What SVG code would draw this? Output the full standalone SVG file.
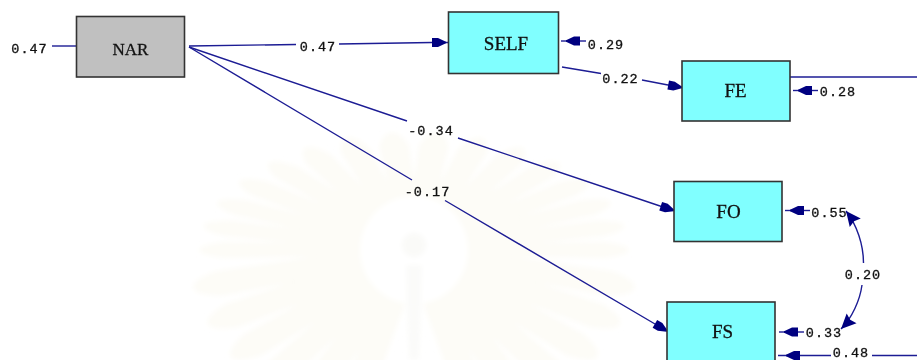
<svg xmlns="http://www.w3.org/2000/svg" width="917" height="360" viewBox="0 0 917 360">
<style>
.n{stroke:#333;stroke-width:1.6}
.c{fill:#80ffff}
.g{fill:#c0c0c0}
.t{fill:#111;text-anchor:middle;stroke:#111;stroke-width:.3}
.nt{font-family:"Liberation Serif",serif;font-size:19px}
.l{font-family:"Liberation Mono",monospace;font-size:13.500px;letter-spacing:1px}
.e{fill:none;stroke:#1c1c94;stroke-width:1.4}
.h{marker-end:url(#a)}
.m{marker-mid:url(#a)}
.r{fill:#fdfcf7}
</style>
<defs>
<marker id="a" markerUnits="userSpaceOnUse" markerWidth="20" markerHeight="14" viewBox="-16 -7 20 14" refX="0" refY="0" orient="auto" overflow="visible">
<path d="M-14,-4.500 L-8,-4.500 L0,-0.800 L0,0.800 L-8,4.500 L-14,4.500Z" fill="#000080"/>
</marker>
<marker id="b" markerUnits="userSpaceOnUse" markerWidth="20" markerHeight="14" viewBox="-16 -7 20 14" refX="0" refY="0" orient="auto" overflow="visible">
<path d="M-15,-7 L0,0 L-15,7 L-13,0Z" fill="#000080"/>
</marker>
<path id="ray" d="M50,-11 L190,-15 Q215,-9 215,0 Q215,9 190,15 L50,11Z"/>
<filter id="s" x="-10%" y="-10%" width="120%" height="120%"><feGaussianBlur stdDeviation="2.500"/></filter>
</defs>
<rect width="917" height="360" fill="#fff"/>
<g id="watermark" filter="url(#s)">
<g class="r" transform="translate(414,250) scale(1,.55)">
<use href="#ray" transform="rotate(180)"/><use href="#ray" transform="rotate(192)"/><use href="#ray" transform="rotate(204)"/><use href="#ray" transform="rotate(216)"/><use href="#ray" transform="rotate(228)"/><use href="#ray" transform="rotate(240)"/><use href="#ray" transform="rotate(252)"/><use href="#ray" transform="rotate(264)"/><use href="#ray" transform="rotate(276)"/><use href="#ray" transform="rotate(288)"/><use href="#ray" transform="rotate(300)"/><use href="#ray" transform="rotate(312)"/><use href="#ray" transform="rotate(324)"/><use href="#ray" transform="rotate(336)"/><use href="#ray" transform="rotate(348)"/><use href="#ray" transform="rotate(0)"/>
</g>
<g class="r" transform="translate(414,250) scale(1.05,.85)">
<use href="#ray" transform="rotate(12)"/><use href="#ray" transform="rotate(24)"/><use href="#ray" transform="rotate(36)"/><use href="#ray" transform="rotate(48)"/><use href="#ray" transform="rotate(60)"/><use href="#ray" transform="rotate(72)"/><use href="#ray" transform="rotate(108)"/><use href="#ray" transform="rotate(120)"/><use href="#ray" transform="rotate(132)"/><use href="#ray" transform="rotate(144)"/><use href="#ray" transform="rotate(156)"/><use href="#ray" transform="rotate(168)"/>
</g>
<circle cx="414" cy="250" r="54" fill="#fff"/>
<circle cx="414" cy="245" r="12" fill="#fafaf8"/>
<path d="M406,265H422L419,360H409Z" fill="#fbfbf9"/>
</g>
<g id="connectors">
<path class="e" d="M52,46H77"/>
<path class="e" d="M189,46L296,44.500M339,44L432,42.500"/>
<path class="e h" d="M432,42.500H446"/>
<path class="e" d="M446,42.500H448"/>
<path class="e" d="M189,47L407,121M458,138L660,206"/>
<path class="e h" d="M660,206L674,210.500"/>
<path class="e" d="M189,47L412,180M445,200.500L655,324"/>
<path class="e h" d="M655,324L667,331"/>
<path class="e" d="M562,67L601,73.500M642,80L668,85"/>
<path class="e h" d="M668,85L682,87.500"/>
<path class="e" d="M790,77H917"/>
<path class="e m" d="M586,41L566,41L561,41"/>
<path class="e m" d="M818,90.500L798,90.500L793,90.500"/>
<path class="e m" d="M810,210.500L790,210.500L785,210.500"/>
<path class="e m" d="M804,332L784,332L779,332"/>
<path class="e m" d="M831,355.500L786,355.500L778,355.500"/>
<path class="e" d="M872,355.500H917"/>
<path class="e" d="M863.500,263C863.500,245 857,225 846,211" style="marker-end:url(#b)"/>
<path class="e" d="M862,285C860,300 852,318 841,329" style="marker-end:url(#b)"/>
</g>
<g id="node-nar"><rect class="n g" x="76.500" y="16.500" width="108" height="60.500"/><text class="t nt" x="130.500" y="55" style="font-size:17px">NAR</text></g>
<g id="node-self"><rect class="n c" x="448.500" y="12" width="110" height="61.500"/><text class="t nt" x="506" y="50">SELF</text></g>
<g id="node-fe"><rect class="n c" x="682" y="61" width="108" height="60"/><text class="t nt" x="735.500" y="97">FE</text></g>
<g id="node-fo"><rect class="n c" x="674" y="181.500" width="108" height="60"/><text class="t nt" x="728.500" y="218">FO</text></g>
<g id="node-fs"><rect class="n c" x="667" y="302" width="108" height="70"/><text class="t nt" x="722.500" y="338">FS</text></g>
<g id="labels">
<text class="t l" x="29.500" y="52.500">0.47</text>
<text class="t l" x="318" y="51">0.47</text>
<text class="t l" x="431" y="135">-0.34</text>
<text class="t l" x="427.500" y="196">-0.17</text>
<text class="t l" x="620.500" y="83">0.22</text>
<text class="t l" x="606" y="48.500">0.29</text>
<text class="t l" x="838" y="95.500">0.28</text>
<text class="t l" x="829.500" y="217">0.55</text>
<text class="t l" x="863" y="279">0.20</text>
<text class="t l" x="824" y="337">0.33</text>
<text class="t l" x="851" y="357">0.48</text>
</g>
</svg>
